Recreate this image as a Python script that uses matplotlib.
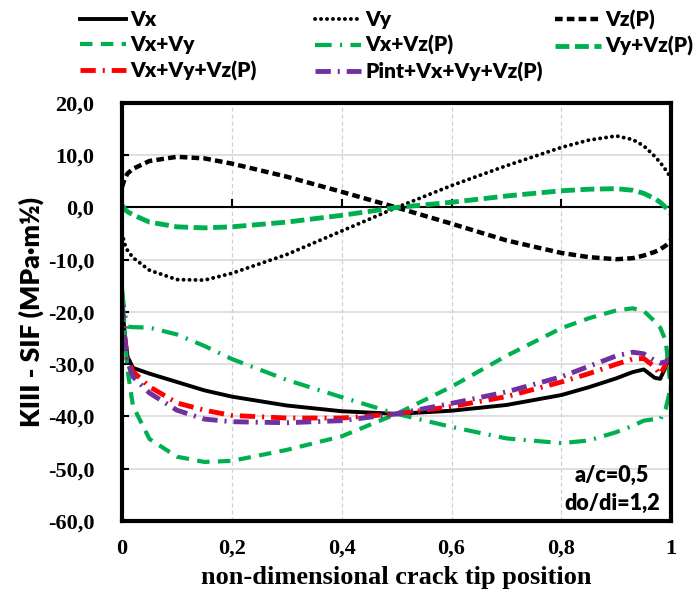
import matplotlib
matplotlib.use("Agg")
import matplotlib.pyplot as plt

plt.rcParams['lines.scale_dashes'] = False

# crack tip position (shared by all series)
x = [0, 0.005, 0.01, 0.02, 0.05, 0.1, 0.15, 0.2, 0.3, 0.4, 0.5, 0.6, 0.7,
     0.8, 0.85, 0.9, 0.93, 0.95, 0.97, 0.98, 0.99, 1.0]

vx = [-18.5, -24.0, -28.5, -30.7, -31.8, -33.4, -35.0, -36.2, -37.9, -39.0, -39.5,
      -38.9, -37.8, -35.9, -34.4, -32.7, -31.5, -31.0, -32.6, -32.8, -30.5, -28.0]
vy = [-4.9, -7.0, -8.2, -9.6, -12.0, -13.8, -13.9, -12.6, -9.0, -4.5, 0.0,
      4.2, 8.0, 11.5, 12.9, 13.7, 13.0, 11.8, 9.8, 8.6, 7.2, 5.6]
vz = [3.9, 5.5, 6.5, 7.4, 8.9, 9.7, 9.4, 8.4, 5.9, 3.0, 0.0,
      -3.1, -6.3, -8.7, -9.5, -9.9, -9.7, -9.2, -8.5, -8.0, -7.3, -6.2]
vx_vy = [-15.5, -24.0, -31.0, -38.0, -44.3, -47.7, -48.7, -48.5, -46.4, -43.8, -39.5,
         -34.3, -28.4, -23.1, -21.2, -19.7, -19.3, -19.8, -21.8, -23.0, -25.5, -35.5]
vx_vz = [-16.0, -20.0, -22.8, -22.9, -23.0, -24.3, -26.5, -29.0, -33.0, -36.3, -39.5,
         -42.0, -44.2, -45.1, -44.6, -43.0, -41.8, -40.8, -40.5, -40.6, -38.5, -34.0]
vy_vz = [0.5, -0.3, -0.8, -1.4, -2.8, -3.7, -3.9, -3.7, -2.8, -1.5, 0.0,
         1.0, 2.2, 3.2, 3.5, 3.6, 3.3, 2.7, 1.7, 1.0, 0.0, -1.3]
vxyz = [-18.5, -25.0, -29.0, -31.4, -34.3, -37.4, -38.8, -39.8, -40.3, -40.3, -39.5,
        -38.1, -36.2, -33.4, -31.8, -30.0, -29.0, -28.9, -30.5, -32.0, -30.0, -27.3]
pint = [-18.5, -25.5, -29.5, -32.4, -35.5, -38.8, -40.5, -41.0, -41.2, -40.8, -39.5,
        -37.5, -35.3, -32.4, -30.4, -28.4, -27.7, -28.0, -29.3, -29.8, -29.5, -29.0]

yticks = [-60, -50, -40, -30, -20, -10, 0, 10, 20]
xticks = [0, 0.2, 0.4, 0.6, 0.8, 1.0]
xtick_labels = ["0", "0,2", "0,4", "0,6", "0,8", "1"]

green = "#00B050"
sans = ["Lato", "DejaVu Sans"]
serif = ["Liberation Serif", "DejaVu Serif"]

fig = plt.figure(figsize=(6.97, 5.92), dpi=100)
ax = fig.add_axes([0.175, 0.12, 0.788, 0.706])

# grid
for yv in yticks:
    ax.axhline(yv, color="#d9d9d9", lw=1.2, zorder=0)
for xv in xticks[1:-1]:
    ax.axvline(xv, color="#d0d0d0", lw=0.9, ls=(0, (3, 2)), zorder=0)
ax.axhline(0, color="black", lw=1.5, zorder=1)
ax.plot(xticks[1:-1], [0] * 4, ls="", marker=2, ms=6, mew=1.5, color="black", zorder=1)

lines = {}
lines["Vx"] = ax.plot(x, vx, color="black", lw=2.8, label="Vx")[0]
lines["Vy"] = ax.plot(x, vy, color="black", lw=2.8, dashes=(0.1, 4.2),
                      dash_capstyle="round", label="Vy")[0]
lines["Vz(P)"] = ax.plot(x, vz, color="black", lw=3.2, dashes=(5.5, 3),
                         label="Vz(P)")[0]
lines["Vx+Vy"] = ax.plot(x, vx_vy, color=green, lw=3, dashes=(9, 6),
                         label="Vx+Vy")[0]
lines["Vx+Vz(P)"] = ax.plot(x, vx_vz, color=green, lw=3, dashes=(12, 6, 1.5, 6),
                            label="Vx+Vz(P)")[0]
lines["Vy+Vz(P)"] = ax.plot(x, vy_vz, color=green, lw=3.5, dashes=(10, 4),
                            label="Vy+Vz(P)")[0]
lines["Vx+Vy+Vz(P)"] = ax.plot(x, vxyz, color="#ff0000", lw=3.5, dashes=(11, 5, 1.5, 5),
                               label="Vx+Vy+Vz(P)")[0]
lines["Pint+Vx+Vy+Vz(P)"] = ax.plot(x, pint, color="#7030a0", lw=3.5,
                                    dashes=(11, 5, 1.5, 5),
                                    label="Pint+Vx+Vy+Vz(P)")[0]

ax.set_xlim(0, 1)
ax.set_ylim(-60, 20)
ax.set_yticks(yticks)
ax.set_yticklabels([f"{v:.1f}".replace(".", ",") for v in yticks])
ax.set_xticks(xticks)
ax.set_xticklabels(xtick_labels)
ax.tick_params(axis="y", direction="in", length=5, width=1.5, pad=20)
ax.tick_params(axis="x", length=0, pad=13)
for lab in ax.get_xticklabels() + ax.get_yticklabels():
    lab.set_family(serif)
    lab.set_fontweight("bold")
    lab.set_fontsize(16)
for sp in ax.spines.values():
    sp.set_linewidth(3)

ax.set_xlabel("non-dimensional crack tip position", family=serif,
              fontweight="bold", fontsize=19, labelpad=5)
ax.set_ylabel("KIII - SIF (MPa·m½)", family=sans, fontweight="heavy",
              fontsize=19, labelpad=3)

ax.text(0.8925, 0.075, "a/c=0,5\ndo/di=1,2", transform=ax.transAxes,
        ha="center", va="center", family=sans, fontweight="heavy",
        fontsize=15.5, linespacing=1.4)

# legend: three columns placed by hand
cols = [["Vx", "Vx+Vy", "Vx+Vy+Vz(P)"],
        ["Vy", "Vx+Vz(P)", "Pint+Vx+Vy+Vz(P)"],
        ["Vz(P)", "Vy+Vz(P)"]]
col_x = [0.115, 0.452, 0.796]
for cx, names in zip(col_x, cols):
    fig.legend([lines[n] for n in names], names, loc="upper left",
               bbox_to_anchor=(cx, 0.983), frameon=False, handlelength=2.2,
               handletextpad=0.2, labelspacing=0.3, borderpad=0,
               borderaxespad=0,
               prop={"family": sans, "weight": "heavy", "size": 15})

fig.savefig("out.png", dpi=100)
